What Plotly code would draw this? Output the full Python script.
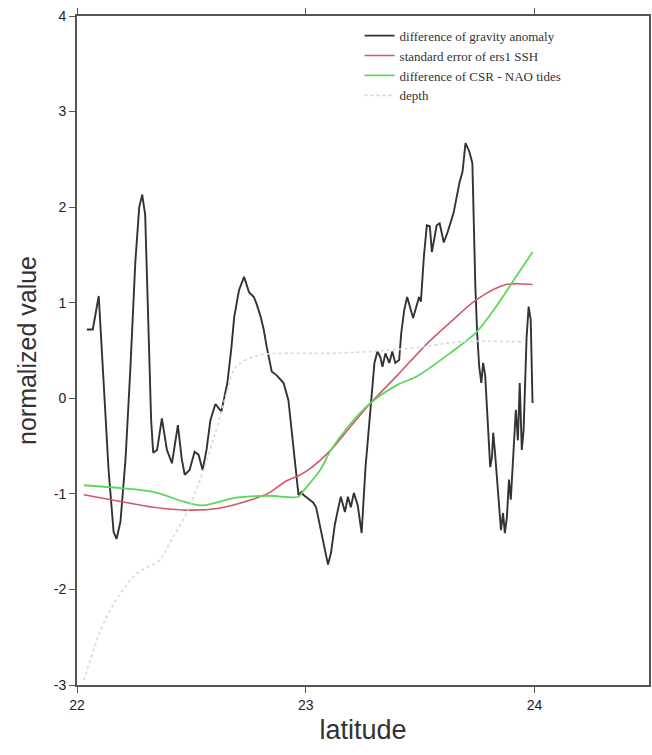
import plotly.graph_objects as go

# difference of gravity anomaly
grav_lat = [22.043, 22.069, 22.095, 22.117, 22.138, 22.160, 22.173, 22.190, 22.212, 22.233,
            22.255, 22.272, 22.285, 22.298, 22.311, 22.324, 22.333, 22.350, 22.371, 22.393,
            22.415, 22.441, 22.458, 22.471, 22.492, 22.514, 22.531, 22.549, 22.566, 22.583,
            22.605, 22.631, 22.657, 22.674, 22.687, 22.708, 22.730, 22.752, 22.773, 22.786,
            22.803, 22.816, 22.829, 22.851, 22.873, 22.903, 22.924, 22.937, 22.955, 22.968,
            22.981, 22.989, 23.011, 23.032, 23.045, 23.063, 23.084, 23.097, 23.110, 23.127,
            23.140, 23.153, 23.171, 23.184, 23.197, 23.210, 23.227, 23.244, 23.261, 23.283,
            23.300, 23.313, 23.326, 23.335, 23.348, 23.365, 23.378, 23.391, 23.408, 23.417,
            23.430, 23.443, 23.456, 23.469, 23.482, 23.495, 23.503, 23.516, 23.529, 23.542,
            23.551, 23.572, 23.585, 23.603, 23.620, 23.646, 23.672, 23.685, 23.698, 23.715,
            23.728, 23.732, 23.741, 23.749, 23.758, 23.767, 23.775, 23.784, 23.797, 23.806,
            23.814, 23.819, 23.827, 23.844, 23.853, 23.862, 23.870, 23.879, 23.888, 23.896,
            23.909, 23.918, 23.927, 23.935, 23.944, 23.952, 23.965, 23.974, 23.983, 23.991]
grav_val = [0.72, 0.72, 1.07, 0.19, -0.75, -1.40, -1.47, -1.29, -0.64, 0.30,
            1.43, 2.00, 2.13, 1.92, 0.82, -0.23, -0.57, -0.54, -0.21, -0.54,
            -0.68, -0.28, -0.64, -0.80, -0.75, -0.56, -0.59, -0.75, -0.54, -0.23,
            -0.06, -0.14, 0.16, 0.51, 0.85, 1.13, 1.27, 1.11, 1.06, 0.98,
            0.85, 0.72, 0.54, 0.28, 0.24, 0.16, -0.02, -0.33, -0.68, -1.01,
            -0.98, -1.01, -1.05, -1.09, -1.14, -1.35, -1.62, -1.74, -1.62, -1.32,
            -1.17, -1.03, -1.19, -1.03, -1.14, -0.99, -1.12, -1.41, -0.72, -0.09,
            0.37, 0.49, 0.43, 0.33, 0.47, 0.37, 0.49, 0.37, 0.40, 0.68,
            0.92, 1.06, 0.96, 0.84, 0.95, 1.06, 1.01, 1.48, 1.81, 1.80,
            1.53, 1.81, 1.83, 1.63, 1.74, 1.94, 2.26, 2.37, 2.67, 2.58,
            2.46, 2.00, 1.17, 0.68, 0.33, 0.16, 0.37, 0.24, -0.30, -0.72,
            -0.61, -0.36, -0.57, -1.09, -1.38, -1.20, -1.41, -1.24, -0.85, -1.06,
            -0.57, -0.12, -0.44, 0.16, -0.54, -0.33, 0.64, 0.96, 0.82, -0.05]

# standard error of ers1 SSH
sse_lat = [22.030, 22.190, 22.333, 22.479, 22.622, 22.765, 22.838, 22.911, 22.968, 23.011,
           23.110, 23.184, 23.283, 23.400, 23.529, 23.629, 23.745, 23.875, 23.991]
sse_val = [-1.01, -1.08, -1.14, -1.17, -1.15, -1.06, -0.99, -0.87, -0.81, -0.75,
           -0.54, -0.33, -0.05, 0.24, 0.57, 0.79, 1.03, 1.19, 1.19]

# difference of CSR - NAO tides
tide_lat = [22.030, 22.190, 22.333, 22.479, 22.549, 22.695, 22.838, 22.968, 22.989, 23.063,
            23.110, 23.184, 23.283, 23.400, 23.486, 23.629, 23.745, 23.832, 23.918, 23.991]
tide_val = [-0.91, -0.94, -0.98, -1.09, -1.12, -1.04, -1.02, -1.03, -0.97, -0.75,
            -0.54, -0.30, -0.05, 0.14, 0.23, 0.47, 0.69, 0.96, 1.27, 1.53]

# depth
depth_lat = [22.030, 22.073, 22.117, 22.190, 22.264, 22.363, 22.406, 22.479, 22.549, 22.609,
             22.652, 22.695, 22.795, 22.911, 23.097, 23.283, 23.486, 23.672, 23.948]
depth_val = [-2.95, -2.63, -2.35, -2.04, -1.83, -1.69, -1.51, -1.20, -0.78, -0.33,
             0.04, 0.33, 0.45, 0.47, 0.47, 0.49, 0.53, 0.59, 0.59]

x_ticks = [22, 23, 24]
x_ticklabels = ["22", "23", "24"]
y_ticks = [-3, -2, -1, 0, 1, 2, 3, 4]
y_ticklabels = ["-3", "-2", "-1", "0", "1", "2", "3", "4"]

fig = go.Figure()
fig.add_trace(go.Scatter(x=grav_lat, y=grav_val, mode="lines", name="difference of gravity anomaly",
                         line=dict(color="#333333", width=1.9)))
fig.add_trace(go.Scatter(x=sse_lat, y=sse_val, mode="lines", name="standard error of ers1 SSH",
                         line=dict(color="#d4566a", width=1.6, shape="spline", smoothing=0.8)))
fig.add_trace(go.Scatter(x=tide_lat, y=tide_val, mode="lines", name="difference of CSR - NAO tides",
                         line=dict(color="#5fd65a", width=1.8, shape="spline", smoothing=0.8)))
fig.add_trace(go.Scatter(x=depth_lat, y=depth_val, mode="lines", name="depth",
                         line=dict(color="#d0dbdb", width=1.6, shape="spline", dash="dot")))

axis_common = dict(showgrid=False, zeroline=False, showline=True, linecolor="#555555", linewidth=2,
                   ticks="outside", ticklen=6, tickcolor="#555555", tickwidth=1, automargin=False,
                   tickfont=dict(family="Liberation Sans, Arial", size=14, color="#222222"))

fig.update_xaxes(range=[22, 24.5], tickvals=x_ticks, ticktext=x_ticklabels, mirror="ticks",
                 title=dict(text="latitude", font=dict(family="Liberation Sans, Arial", size=27, color="#333333"),
                            standoff=8),
                 **axis_common)
fig.update_yaxes(range=[-3, 4], tickvals=y_ticks, ticktext=y_ticklabels, mirror=True,
                 title=dict(text="normalized value", font=dict(family="Liberation Sans, Arial", size=25, color="#333333"),
                            standoff=10),
                 **axis_common)

fig.update_layout(
    width=652, height=755,
    margin=dict(l=77, r=3, t=16, b=70),
    plot_bgcolor="white", paper_bgcolor="white",
    showlegend=True,
    legend=dict(x=0.494, y=0.993, xanchor="left", yanchor="top",
                bgcolor="rgba(0,0,0,0)", borderwidth=0,
                font=dict(family="Liberation Serif, Times New Roman", size=13, color="#333333"),
                itemwidth=30, tracegroupgap=0),
)

fig.write_html("out.html", config={"displayModeBar": False},
               post_script="document.body.style.margin='0';document.body.style.padding='0';"
                           "document.body.style.overflow='hidden';")
